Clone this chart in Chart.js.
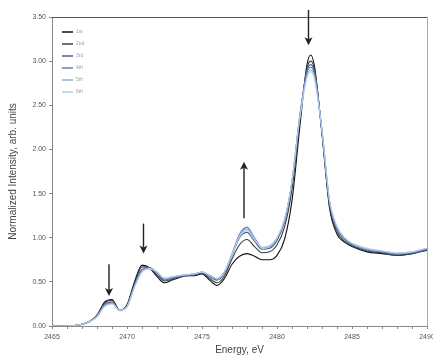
<!DOCTYPE html>
<html><head><meta charset="utf-8">
<script src="https://cdn.jsdelivr.net/npm/chart.js@4/dist/chart.umd.min.js"></script>
<style>html,body{margin:0;padding:0;background:#fff}#wrap{width:433px;height:356px}</style>
</head><body><div id="wrap"><canvas id="c" width="433" height="356"></canvas></div>
<script>
const energy = [2465,2466,2467,2467.5,2468,2468.5,2469,2469.5,2470,2470.5,2471,2471.5,2472,2472.5,2473,2473.5,2474,2474.5,2475,2475.5,2476,2476.5,2477,2477.5,2478,2478.5,2479,2479.5,2480,2480.5,2481,2481.5,2482,2482.25,2482.5,2483,2483.5,2484,2484.5,2485,2486,2487,2488,2489,2490];
const labels = ['1st','2nd','3rd','4th','5th','6th'];
const s1 = [0.00,0.00,0.02,0.05,0.12,0.27,0.30,0.18,0.24,0.50,0.69,0.66,0.56,0.49,0.52,0.55,0.57,0.57,0.59,0.52,0.46,0.54,0.70,0.79,0.82,0.79,0.75,0.75,0.80,0.98,1.42,2.22,2.96,3.07,2.94,2.18,1.34,1.04,0.95,0.90,0.84,0.82,0.80,0.82,0.86];
const s2 = [0.00,0.00,0.02,0.05,0.12,0.26,0.29,0.18,0.23,0.48,0.67,0.66,0.58,0.51,0.53,0.56,0.57,0.58,0.60,0.54,0.49,0.57,0.76,0.92,0.98,0.90,0.83,0.84,0.92,1.12,1.55,2.30,2.92,3.00,2.90,2.18,1.36,1.07,0.96,0.91,0.85,0.83,0.80,0.82,0.86];
const s3 = [0.00,0.00,0.02,0.05,0.11,0.24,0.27,0.18,0.22,0.46,0.64,0.66,0.60,0.52,0.54,0.56,0.57,0.58,0.60,0.56,0.52,0.60,0.80,1.00,1.06,0.96,0.87,0.88,0.97,1.18,1.62,2.34,2.89,2.96,2.87,2.20,1.40,1.10,0.98,0.92,0.86,0.84,0.81,0.83,0.87];
const s4 = [0.00,0.00,0.02,0.05,0.11,0.23,0.26,0.18,0.22,0.45,0.63,0.66,0.61,0.53,0.55,0.57,0.58,0.59,0.61,0.57,0.53,0.61,0.82,1.04,1.12,1.00,0.89,0.90,0.99,1.20,1.64,2.36,2.87,2.93,2.85,2.21,1.41,1.11,0.99,0.93,0.87,0.84,0.82,0.83,0.87];
const s5 = [0.00,0.00,0.02,0.05,0.11,0.23,0.26,0.18,0.22,0.45,0.62,0.65,0.61,0.54,0.55,0.57,0.58,0.59,0.61,0.57,0.53,0.61,0.81,1.02,1.10,0.99,0.89,0.90,0.99,1.20,1.64,2.35,2.84,2.90,2.82,2.22,1.42,1.12,1.00,0.93,0.87,0.85,0.82,0.84,0.88];
const s6 = [0.00,0.00,0.02,0.05,0.10,0.22,0.25,0.18,0.22,0.44,0.61,0.65,0.61,0.54,0.56,0.57,0.58,0.59,0.61,0.58,0.54,0.62,0.81,1.01,1.08,0.98,0.89,0.91,1.00,1.21,1.64,2.33,2.81,2.88,2.80,2.22,1.43,1.13,1.00,0.94,0.88,0.85,0.83,0.84,0.88];
const series = [s1,s2,s3,s4,s5,s6];
const colors = ['#111111','#3a3f48','#4d5f85','#5f82b8','#8eaedb','#b4cbea'];
// annotation arrows: [x (eV), from value, to value]
const arrowX = [2468.8, 2471.1, 2477.8, 2482.1];
const arrowFrom = [0.70, 1.16, 1.22, 3.58];
const arrowTo = [0.34, 0.82, 1.86, 3.18];

const FONT = '"Liberation Sans", "Open Sans", sans-serif';

const datasets = series.map((s,i)=>({
  label: labels[i],
  data: energy.map((e,j)=>({x:e,y:s[j]})),
  borderColor: colors[i],
  borderWidth: 1.1,
  pointRadius: 0,
  cubicInterpolationMode: 'monotone',
  fill: false
})).reverse();

const extras = {
  id: 'extras',
  afterDraw(chart){
    const {ctx, chartArea:a, scales:{x,y}} = chart;
    ctx.save();
    ctx.strokeStyle = '#555'; ctx.lineWidth = 1;
    ctx.beginPath(); ctx.moveTo(a.left, a.top+0.5); ctx.lineTo(a.right, a.top+0.5); ctx.stroke();
    ctx.strokeStyle = '#aaa';
    ctx.beginPath(); ctx.moveTo(a.right+0.5, a.top); ctx.lineTo(a.right+0.5, a.bottom); ctx.stroke();
    ctx.font = '5px ' + FONT; ctx.textBaseline = 'middle'; ctx.textAlign='left';
    labels.forEach((l,i)=>{
      const yy = a.top + 15 + i*12;
      ctx.strokeStyle = colors[i]; ctx.lineWidth = 1.5;
      ctx.beginPath(); ctx.moveTo(a.left+10, yy); ctx.lineTo(a.left+21, yy); ctx.stroke();
      ctx.fillStyle = '#a0a0a0'; ctx.fillText(l, a.left+24, yy);
    });
    ctx.strokeStyle = '#222'; ctx.fillStyle = '#222'; ctx.lineWidth = 1.4;
    arrowX.forEach((xv,i)=>{
      const px = x.getPixelForValue(xv);
      const p0 = y.getPixelForValue(arrowFrom[i]);
      const p1 = y.getPixelForValue(arrowTo[i]);
      const dir = p1 > p0 ? 1 : -1;
      ctx.beginPath(); ctx.moveTo(px, p0); ctx.lineTo(px, p1 - dir*6); ctx.stroke();
      ctx.beginPath(); ctx.moveTo(px, p1); ctx.lineTo(px-4, p1 - dir*8); ctx.lineTo(px, p1 - dir*6); ctx.lineTo(px+4, p1 - dir*8); ctx.closePath(); ctx.fill();
    });
    ctx.restore();
  }
};

new Chart(document.getElementById('c'), {
  type: 'line',
  data: { datasets },
  options: {
    responsive: false, animation: false,
    layout: { padding: { top: 17, right: 6, left: 0, bottom: 0 } },
    plugins: { legend: { display: false }, tooltip: { enabled: false } },
    scales: {
      x: {
        type: 'linear', min: 2465, max: 2490,
        grid: { drawOnChartArea: false, drawTicks: true, tickLength: 3, color: '#888' },
        border: { color: '#888', width: 1 },
        ticks: { stepSize: 1, autoSkip: false, maxRotation: 0, padding: 4, color: '#555', font: { size: 7, family: FONT },
          callback: v => (v % 5 === 0 ? String(v) : '') },
        title: { display: true, text: 'Energy, eV', color: '#444', font: { size: 10, family: FONT }, padding: { top: 0, bottom: 0 } },
        afterFit: s => { s.height = 30; s.paddingRight = 0; s.paddingLeft = 0; }
      },
      y: {
        min: 0, max: 3.5,
        grid: { drawOnChartArea: false, drawTicks: true, tickLength: 3, color: '#888' },
        border: { color: '#888', width: 1 },
        ticks: { stepSize: 0.5, padding: 3, color: '#555', font: { size: 7, family: FONT }, callback: v => v.toFixed(2) },
        title: { display: true, text: 'Normalized Intensity, arb. units', color: '#444', font: { size: 10, family: FONT }, padding: { top: 7, bottom: 0 } },
        afterFit: s => { s.width = 52; s.paddingTop = 0; s.paddingBottom = 0; }
      }
    }
  },
  plugins: [extras]
});
</script></body></html>
